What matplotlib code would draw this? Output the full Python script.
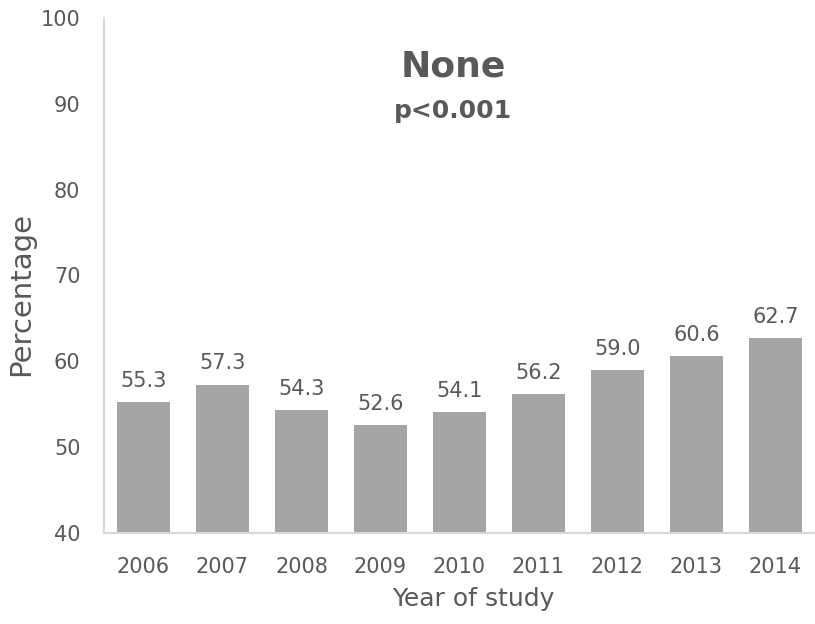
import matplotlib
matplotlib.use('Agg')
import matplotlib.pyplot as plt

# datos del gráfico
anios = ['2006', '2007', '2008', '2009', '2010', '2011', '2012', '2013', '2014']
porcentajes = [55.3, 57.3, 54.3, 52.6, 54.1, 56.2, 59.0, 60.6, 62.7]
yticks = [40, 50, 60, 70, 80, 90, 100]

gris_texto = '#595959'
gris_eje = '#D9D9D9'

fig = plt.figure(figsize=(8.15, 6.24), dpi=100)
ax = fig.add_axes([0.1276, 0.1458, 0.8724, 0.8254])

x = range(len(anios))
ax.bar(x, porcentajes, width=0.67, color='#A5A5A5', bottom=0)

# etiquetas de valor encima de cada barra
for xi, v in zip(x, porcentajes):
    ax.annotate('%.1f' % v, (xi, v), xytext=(0, 8), textcoords='offset points',
                ha='center', va='bottom', fontsize=15, color=gris_texto)

ax.set_ylim(40, 100)
ax.set_xlim(-0.5, len(anios) - 0.5)
ax.set_yticks(yticks)
ax.set_xticks(list(x))
ax.set_xticklabels(anios)
ax.tick_params(axis='both', length=0, labelsize=15, colors=gris_texto, pad=17)

for lado in ['top', 'right']:
    ax.spines[lado].set_visible(False)
for lado in ['left', 'bottom']:
    ax.spines[lado].set_color(gris_eje)
    ax.spines[lado].set_linewidth(1.5)

ax.set_ylabel('Percentage', fontsize=21, color=gris_texto)
ax.set_xlabel('Year of study', fontsize=18, color=gris_texto)
# posiciones de las etiquetas de ejes (en fracción de ejes)
ax.yaxis.set_label_coords(-0.097, 0.464)
ax.xaxis.set_label_coords(0.519, -0.105)

ax.text(0.491, 0.905, 'None', transform=ax.transAxes, ha='center', va='center',
        fontsize=26, fontweight='bold', color=gris_texto)
ax.text(0.491, 0.819, 'p<0.001', transform=ax.transAxes, ha='center', va='center',
        fontsize=18, fontweight='bold', color=gris_texto)

fig.savefig('out.png', dpi=100)
